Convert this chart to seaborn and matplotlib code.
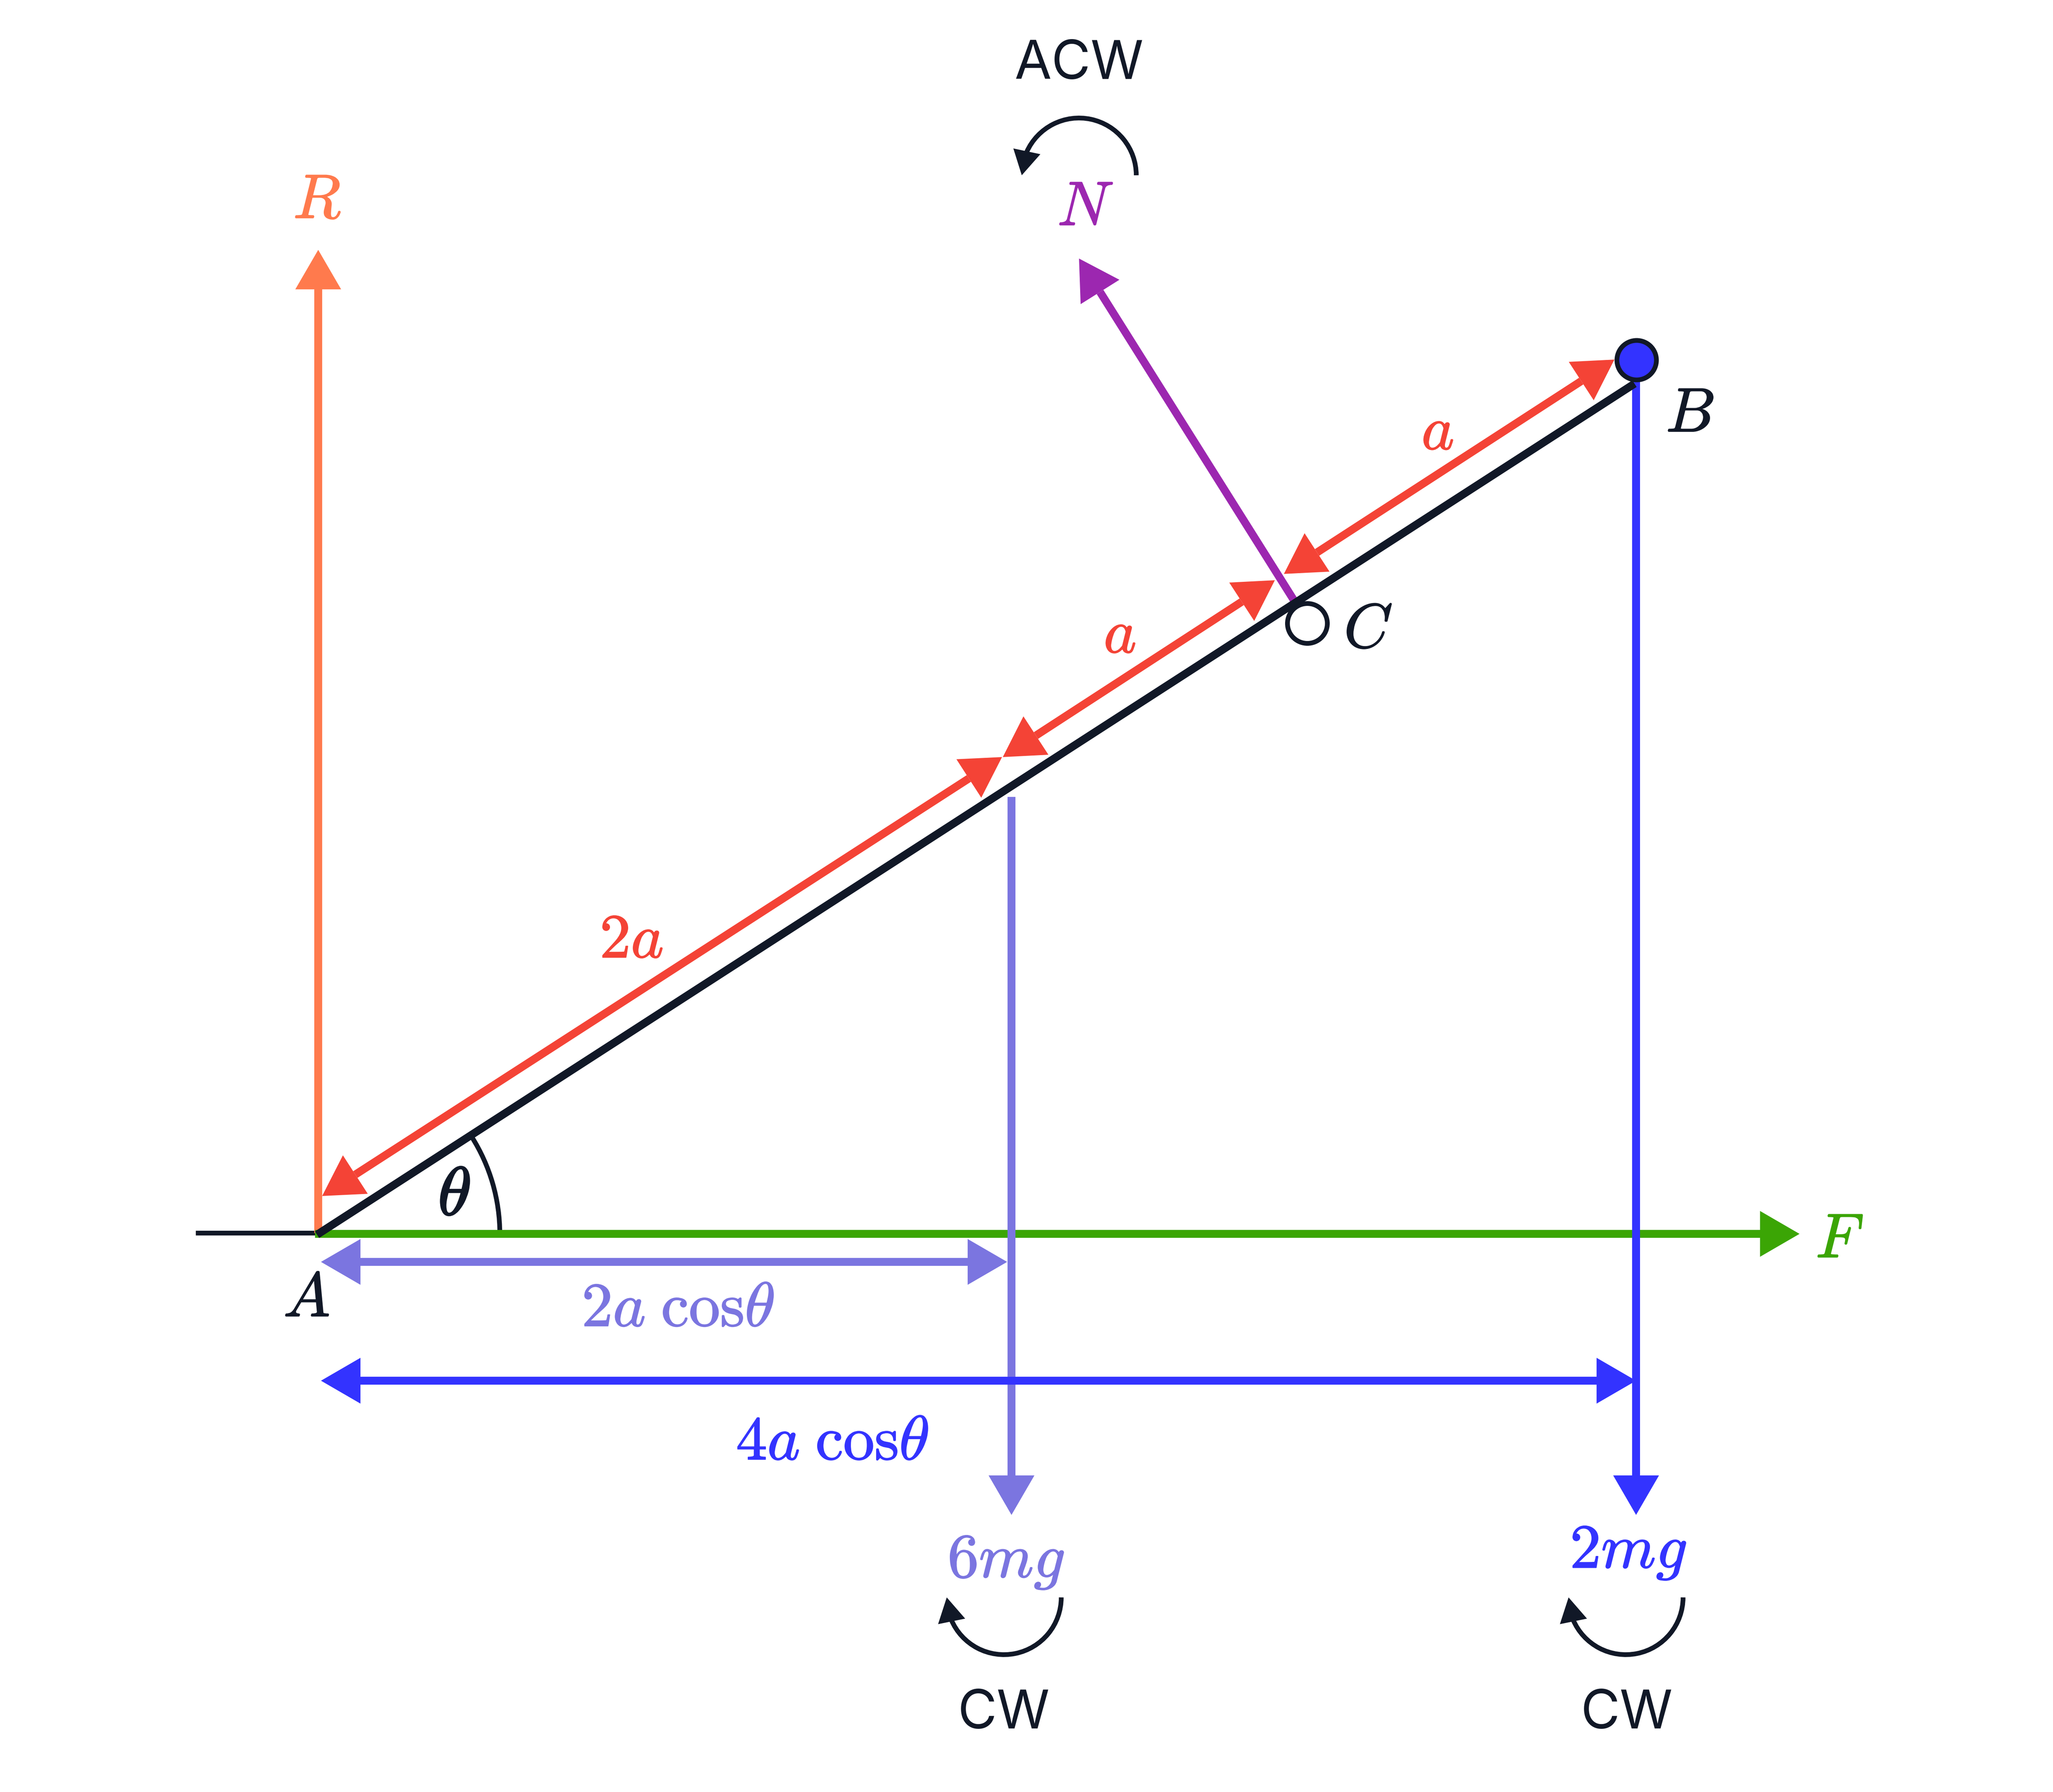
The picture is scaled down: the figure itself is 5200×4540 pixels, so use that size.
import numpy as np
import seaborn as sns
from matplotlib import pyplot as plt
from matplotlib import patheffects as pe
from matplotlib.patches import Arc, Polygon

sns.set_theme(style='white')
plt.rcParams['mathtext.fontset'] = 'cm'
plt.rcParams['font.family'] = ['Inter', 'DejaVu Sans']

DARK = '#111827'
RED = '#F44336'
ORANGE = '#FF7A4D'
GREEN = '#3BA505'
PURPLE = '#9C27B0'
SLATE = '#7B75E0'
BLUE = '#3333FF'

# straight lines without heads: x, y
base_x, base_y = [496, 806], [3124, 3124]
rod_x, rod_y = [803, 4140], [3128, 972]

# arrows: tail x, tail y, tip x, tip y
r_arrow = [806, 3124, 806, 633]
f_arrow = [798, 3126, 4558, 3126]
n_arrow = [3280, 1525, 2733, 655]
w6_arrow = [2562, 2019, 2562, 3838]
w2_arrow = [4144, 912, 4144, 3838]
# double arrows: end 1 x, y, end 2 x, y
red_2a = [816, 3030, 2538, 1918]
red_a1 = [2540, 1918, 3229, 1470]
red_a2 = [3252, 1454, 4089, 911]
dim_2a = [813, 3197, 2551, 3197]
dim_4a = [813, 3498, 4144, 3498]

# turning arcs: centre x, centre y, start angle, end angle, head tip x, y
acw = [2733, 444, 204, 360, 2588, 444]
cw_6 = [2543, 4047, 0, 157, 2398, 4047]
cw_2 = [4118, 4047, 0, 157, 3973, 4047]
theta_arc = [806, 3126, 460, 327.7, 360]

point_b = (4145, 912)
point_c = (3311, 1579)

# label, centre x, baseline y, colour, font size, stroke
math_labels = [
    (r'$R$', 803, 553, ORANGE, 28.5, 0.4), (r'$N$', 2749, 571, PURPLE, 28.5, 0.4),
    (r'$\theta$', 1150, 3078, DARK, 31, 0.8), (r'$A$', 776, 3335, DARK, 28.5, 0.4),
    (r'$B$', 4280, 1094, DARK, 28.5, 0.4), (r'$C$', 3465, 1641, DARK, 28.5, 0.4),
    (r'$a$', 3641, 1139, RED, 28.5, 0.4), (r'$a$', 2836, 1654, RED, 28.5, 0.4),
    (r'$2a$', 1599, 2426, RED, 28.5, 0.4), (r'$F$', 4659, 3186, GREEN, 28.5, 0.4),
    (r'$2a\;\mathrm{cos}\theta$', 1717, 3360, SLATE, 28.5, 0.4),
    (r'$4a\;\mathrm{cos}\theta$', 2108, 3698, BLUE, 28.5, 0.4),
    (r'$6mg$', 2548, 3996, SLATE, 28.5, 0.4), (r'$2mg$', 4124, 3972, BLUE, 28.5, 0.4),
]
word_labels = [('ACW', 2733, 200), ('CW', 2543, 4379), ('CW', 4121, 4379)]

DPI = 400
PX = 72 / DPI  # one output pixel in points


def line(ax, xs, ys, color, width, z=2):
    sns.lineplot(x=xs, y=ys, ax=ax, color=color, linewidth=width * PX, sort=False,
                 estimator=None, solid_capstyle='butt', zorder=z, legend=False)


def head(ax, tip, tail, color, length=100, width=116, z=3):
    tip = np.array(tip, dtype=float)
    d = np.array(tail, dtype=float) - tip
    d = d / np.hypot(*d)
    n = np.array([-d[1], d[0]])
    b = tip + d * length
    ax.add_patch(Polygon([tip, b + n * width / 2, b - n * width / 2], closed=True,
                         facecolor=color, edgecolor='none', zorder=z))
    return b


def arrow(ax, a, color, width=20, z=2):
    tail, tip = a[:2], a[2:]
    b = head(ax, tip, tail, color, z=z)
    line(ax, [tail[0], b[0]], [tail[1], b[1]], color, width, z=z)


def double_arrow(ax, a, color, width=20, z=2):
    p, q = a[:2], a[2:]
    b1 = head(ax, p, q, color, z=z)
    b2 = head(ax, q, p, color, z=z)
    line(ax, [b1[0], b2[0]], [b1[1], b2[1]], color, width, z=z)


def turn(ax, t):
    cx, cy, t1, t2, tipx, tipy = t
    ax.add_patch(Arc((cx, cy), 290, 290, theta1=t1, theta2=t2, color=DARK, lw=12 * PX, zorder=2))
    ang = np.radians(t1 if t1 != 0 else t2)
    base = (cx + 145 * np.cos(ang), cy + 145 * np.sin(ang))
    head(ax, (tipx, tipy), base, DARK, length=62, width=70)


fig = plt.figure(figsize=(5200 / DPI, 4540 / DPI), dpi=DPI, facecolor='white')
ax = fig.add_axes([0, 0, 1, 1])
ax.set_xlim(0, 5200)
ax.set_ylim(4540, 0)
ax.set_aspect('equal')
ax.axis('off')

line(ax, base_x, base_y, DARK, 12, z=1)
arrow(ax, r_arrow, ORANGE, z=1.5)
arrow(ax, f_arrow, GREEN, z=2)
arrow(ax, w6_arrow, SLATE, z=3)
double_arrow(ax, dim_2a, SLATE, z=3)
double_arrow(ax, dim_4a, BLUE, z=4)
arrow(ax, w2_arrow, BLUE, z=4)
arrow(ax, n_arrow, PURPLE, width=20, z=4)
double_arrow(ax, red_2a, RED, z=4)
double_arrow(ax, red_a1, RED, z=4)
double_arrow(ax, red_a2, RED, z=4)

cx, cy, r, t1, t2 = theta_arc
ax.add_patch(Arc((cx, cy), 2 * r, 2 * r, theta1=t1, theta2=t2, color=DARK, lw=12 * PX, zorder=1.8))
for t in (acw, cw_6, cw_2):
    turn(ax, t)

sns.scatterplot(x=[point_c[0]], y=[point_c[1]], ax=ax, s=(101 * PX) ** 2, color='white',
                edgecolor=DARK, linewidth=12 * PX, zorder=5, legend=False)
line(ax, rod_x, rod_y, DARK, 20, z=6)
sns.scatterplot(x=[point_b[0]], y=[point_b[1]], ax=ax, s=(100 * PX) ** 2, color=BLUE,
                edgecolor=DARK, linewidth=12 * PX, zorder=7, legend=False)

for s, x, y, c, size, stroke in math_labels:
    ax.text(x, y, s, color=c, fontsize=size, ha='center', va='baseline', zorder=8,
            path_effects=[pe.withStroke(linewidth=stroke, foreground=c)])
for s, x, y in word_labels:
    ax.text(x, y, s, color=DARK, fontsize=24.5, ha='center', va='baseline', zorder=8)

ax.set_xlim(0, 5200)
ax.set_ylim(4540, 0)
fig.savefig('out.png', dpi=DPI)
